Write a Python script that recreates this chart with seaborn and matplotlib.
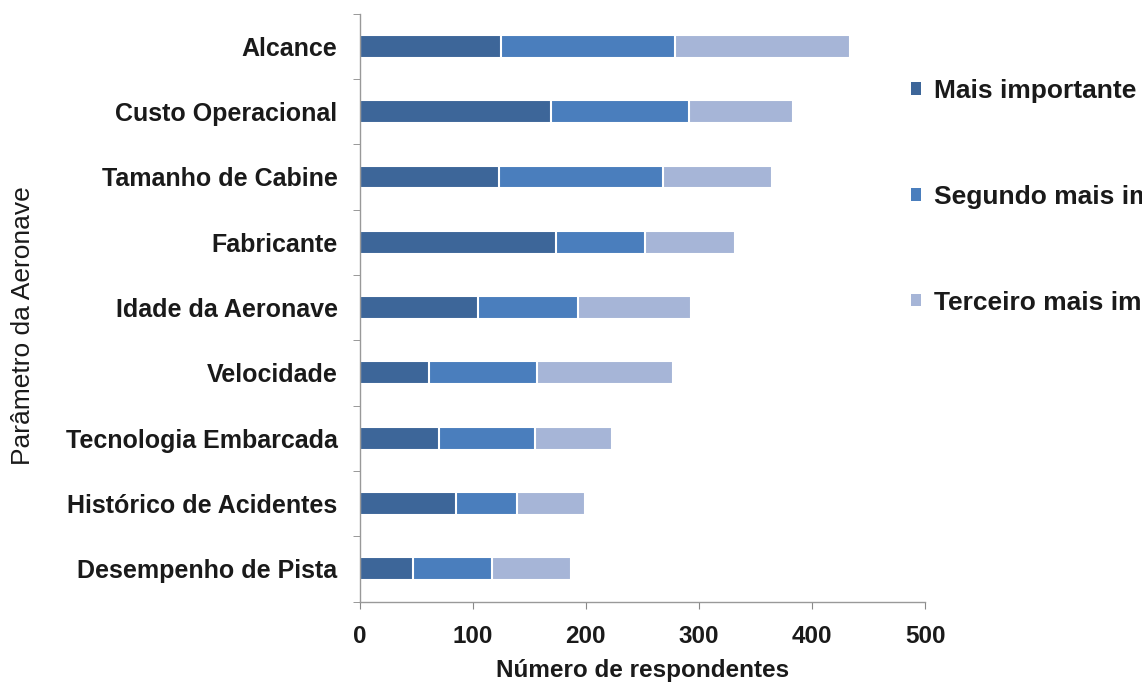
import matplotlib.pyplot as plt
import pandas as pd
import seaborn as sns
from matplotlib.patches import Patch

# valores
parametros = ['Alcance', 'Custo Operacional', 'Tamanho de Cabine', 'Fabricante',
              'Idade da Aeronave', 'Velocidade', 'Tecnologia Embarcada',
              'Histórico de Acidentes', 'Desempenho de Pista']
mais_importante = [125, 169, 123, 174, 105, 61, 70, 85, 47]
segundo = [154, 122, 145, 78, 88, 96, 85, 54, 70]
terceiro = [155, 92, 97, 80, 100, 120, 68, 60, 70]
series = ['Mais importante', 'Segundo mais importante', 'Terceiro mais importante']
cores = ['#3d6699', '#4a7ebd', '#a6b5d7']

df = pd.DataFrame({'param': parametros, 'm1': mais_importante,
                   's2': segundo, 't3': terceiro})
df['c1'] = df['m1']
df['c2'] = df['m1'] + df['s2']
df['c3'] = df['c2'] + df['t3']

sns.set_style('white')
plt.rcParams['font.family'] = ['Liberation Sans', 'DejaVu Sans']
plt.rcParams['text.color'] = '#1a1a1a'
plt.rcParams['xtick.labelcolor'] = '#1a1a1a'
plt.rcParams['ytick.labelcolor'] = '#1a1a1a'

fig, ax = plt.subplots(figsize=(11.42, 6.82), dpi=100)
fig.subplots_adjust(left=0.315, right=0.81, top=0.98, bottom=0.118)

# barras empilhadas: desenha da soma total para a primeira serie
for col, cor in zip(['c3', 'c2', 'c1'], cores[::-1]):
    sns.barplot(data=df, x=col, y='param', color=cor, saturation=1,
                width=0.35, edgecolor='white', linewidth=1.5, ax=ax)

ax.set_xlim(0, 500)
ax.set_ylim(len(parametros) - 0.5, -0.5)
ax.set_xticks([0, 100, 200, 300, 400, 500])
ax.set_xlabel('Número de respondentes', fontsize=17.5, fontweight='bold',
              labelpad=8, color='#1a1a1a')
ax.set_ylabel('Parâmetro da Aeronave', fontsize=19, fontweight='normal', color='#1a1a1a')
ax.yaxis.set_label_coords(-0.575, 0.47)
ax.tick_params(axis='x', labelsize=17.5, length=5, color='#888888', direction='out', bottom=True, pad=12)
ax.tick_params(axis='y', which='major', labelsize=18, length=0, pad=16)
ax.set_yticks([i + 0.5 for i in range(-1, len(parametros))], minor=True)
ax.tick_params(axis='y', which='minor', length=5, color='#888888', left=True, direction='out')
for lab in ax.get_xticklabels() + ax.get_yticklabels():
    lab.set_fontweight('bold')

sns.despine(ax=ax, top=True, right=True)
for s in ['left', 'bottom']:
    ax.spines[s].set_color('#999999')
    ax.spines[s].set_linewidth(1)

handles = [Patch(facecolor=c, edgecolor='none') for c in cores]
fig.legend(handles, series, loc='upper left', bbox_to_anchor=(0.798, 0.884),
           frameon=False, handlelength=0.35, handleheight=0.35,
           handletextpad=0.5, labelspacing=3.1, borderaxespad=0, borderpad=0,
           prop={'weight': 'bold', 'size': 19})

fig.savefig('out.png', dpi=100)
